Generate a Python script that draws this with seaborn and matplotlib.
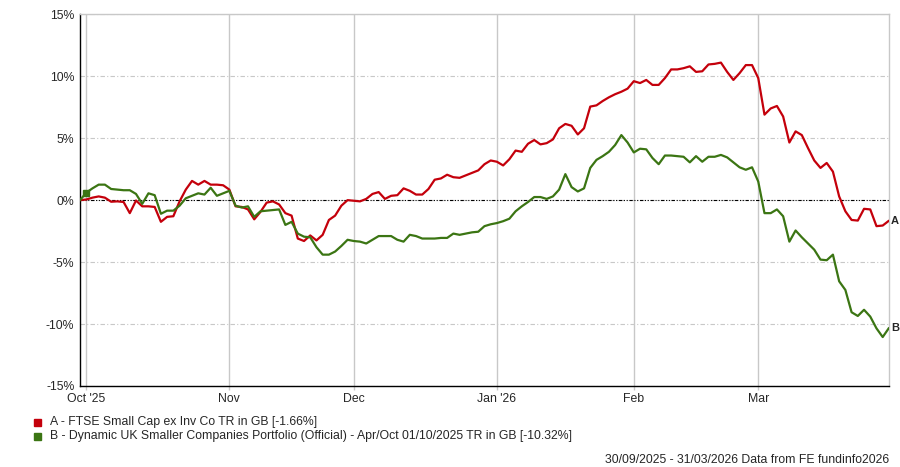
import pandas as pd
import matplotlib.pyplot as plt
import seaborn as sns

# trading days from 30/09/2025 to 31/03/2026
dates = pd.bdate_range('2025-09-30', '2026-03-31')

# cumulative total return (%) per trading day
series_a = [
    0.0, 0.05, 0.2, 0.3, 0.2, -0.13, -0.1, -0.15, -1.05, -0.03,
    -0.5, -0.5, -0.55, -1.75, -1.35, -1.3, -0.1, 0.85, 1.55, 1.25,
    1.55, 1.25, 1.25, 1.2, 0.85, -0.5, -0.55, -0.75, -1.55, -0.95,
    -0.2, -0.1, -0.35, -1.05, -1.25, -3.1, -3.3, -2.85, -3.25, -2.8,
    -1.6, -1.25, -0.45, 0.0, -0.05, -0.1, 0.1, 0.5, 0.65, 0.1,
    0.35, 0.4, 0.95, 0.75, 0.45, 0.45, 0.9, 1.65, 1.75, 2.05,
    1.85, 1.8, 2.0, 2.2, 2.4, 2.9, 3.2, 3.1, 2.8, 3.3,
    4.0, 3.9, 4.55, 4.85, 4.5, 4.6, 4.9, 5.8, 6.15, 6.0,
    5.3, 5.8, 7.55, 7.65, 8.0, 8.3, 8.55, 8.75, 9.0, 9.6,
    9.45, 9.7, 9.3, 9.3, 9.85, 10.55, 10.55, 10.65, 10.8, 10.35,
    10.4, 10.95, 11.0, 11.1, 10.35, 9.7, 10.25, 10.9, 10.9, 9.85,
    6.9, 7.4, 7.6, 6.75, 4.65, 5.55, 5.25, 4.2, 3.2, 2.6,
    3.0, 2.3, 0.3, -0.9, -1.6, -1.65, -0.7, -0.75, -2.1, -2.05,
    -1.66,
]
series_b = [
    0.0, 0.6, 0.95, 1.25, 1.25, 0.9, 0.85, 0.8, 0.8, 0.5,
    -0.3, 0.55, 0.4, -1.1, -0.85, -0.85, -0.45, 0.15, 0.35, 0.55,
    0.45, 1.0, 0.35, 0.55, 0.75, -0.45, -0.6, -0.5, -1.35, -0.9,
    -0.85, -0.8, -0.75, -2.0, -1.75, -2.7, -2.95, -3.0, -3.8, -4.4,
    -4.4, -4.15, -3.7, -3.2, -3.3, -3.35, -3.5, -3.2, -2.9, -2.9,
    -2.9, -3.2, -3.35, -2.8, -2.9, -3.1, -3.1, -3.1, -3.05, -3.05,
    -2.7, -2.8, -2.7, -2.6, -2.55, -2.1, -1.95, -1.85, -1.7, -1.5,
    -0.9, -0.5, -0.15, 0.25, 0.25, 0.1, 0.3, 0.85, 2.1, 1.05,
    0.7, 0.95, 2.6, 3.25, 3.55, 3.9, 4.45, 5.25, 4.65, 3.85,
    4.15, 4.1, 3.4, 2.9, 3.6, 3.6, 3.55, 3.5, 3.05, 3.55,
    3.1, 3.5, 3.5, 3.65, 3.45, 3.05, 2.65, 2.45, 2.65, 1.5,
    -1.05, -1.05, -0.75, -1.3, -3.35, -2.45, -3.0, -3.5, -4.0, -4.8,
    -4.85, -4.4, -6.55, -7.25, -9.05, -9.35, -8.85, -9.4, -10.35, -11.05,
    -10.32,
]

name_a = 'A - FTSE Small Cap ex Inv Co TR in GB [-1.66%]'
name_b = ('B - Dynamic UK Smaller Companies Portfolio (Official) - '
          'Apr/Oct 01/10/2025 TR in GB [-10.32%]')
month_labels = ["Oct '25", 'Nov', 'Dec', "Jan '26", 'Feb', 'Mar']
yticks = [-15, -10, -5, 0, 5, 10, 15]

color_a = '#c4000b'
color_b = '#3b7513'
grey = '#c8c8c8'
fs = 8.8

df = pd.DataFrame({'date': dates, 'A': series_a, 'B': series_b})
df['pos'] = range(len(df))

# first trading day of each month (skip the 30/09 start)
month_start = df[df['date'].dt.month != df['date'].shift().dt.month]['pos'].tolist()[1:]

sns.set_style('white')
plt.rcParams['font.family'] = ['Liberation Sans', 'DejaVu Sans']

fig = plt.figure(figsize=(9, 4.67), dpi=100)
ax = fig.add_axes([0.0889, 0.1735, 0.8988, 0.7959])

ax.axhline(0, color='black', lw=0.8, linestyle=(0, (3, 1.5, 1, 1.5, 1, 1.5)), zorder=1)

sns.lineplot(data=df, x='pos', y='A', color=color_a, lw=1.6, ax=ax, zorder=3)
sns.lineplot(data=df, x='pos', y='B', color=color_b, lw=1.6, ax=ax, zorder=3)
# fund start marker
ax.plot(df['pos'][1], df['B'][1], marker='s', ms=5, color=color_b, zorder=4)

ax.set_xlim(0, len(df) - 1)
ax.set_ylim(-15, 15)
ax.set_xticks(month_start)
ax.set_xticklabels(month_labels)
ax.set_yticks(yticks)
ax.set_yticklabels([f'{v}%' for v in yticks])
ax.set_xlabel('')
ax.set_ylabel('')

ax.grid(axis='x', color=grey, lw=1, linestyle='-', zorder=0)
ax.grid(axis='y', color=grey, lw=0.8, linestyle=(0, (4, 2, 1, 2)), zorder=0)
ax.tick_params(axis='x', length=3, width=1, color=grey, pad=2, labelsize=fs, bottom=True)
ax.tick_params(axis='y', length=0, pad=4, labelsize=fs)

for side in ['top', 'right']:
    ax.spines[side].set_color(grey)
    ax.spines[side].set_linewidth(1)
for side in ['left', 'bottom']:
    ax.spines[side].set_color('black')
    ax.spines[side].set_linewidth(1)

# end labels
ax.annotate('A', (df['pos'].iloc[-1], df['A'].iloc[-1]), xytext=(1.5, 0),
            textcoords='offset points', va='center', ha='left',
            fontsize=8, fontweight='bold', annotation_clip=False)
ax.annotate('B', (df['pos'].iloc[-1], df['B'].iloc[-1]), xytext=(1.5, 0),
            textcoords='offset points', va='center', ha='left',
            fontsize=8, fontweight='bold', annotation_clip=False)

# legend
for row, (name, col) in enumerate([(name_a, color_a), (name_b, color_b)]):
    y = 1 - (422 + row * 14) / 467
    fig.patches.append(plt.Rectangle((34 / 900, y - 3.5 / 467), 7 / 900, 7 / 467,
                                     transform=fig.transFigure, color=col))
    fig.text(50 / 900, y, name, fontsize=fs, va='center', ha='left')

fig.text(889 / 900, 1 - 460 / 467, '30/09/2025 - 31/03/2026 Data from FE fundinfo2026',
         fontsize=fs, va='center', ha='right')

plt.savefig('out.png', dpi=100)
